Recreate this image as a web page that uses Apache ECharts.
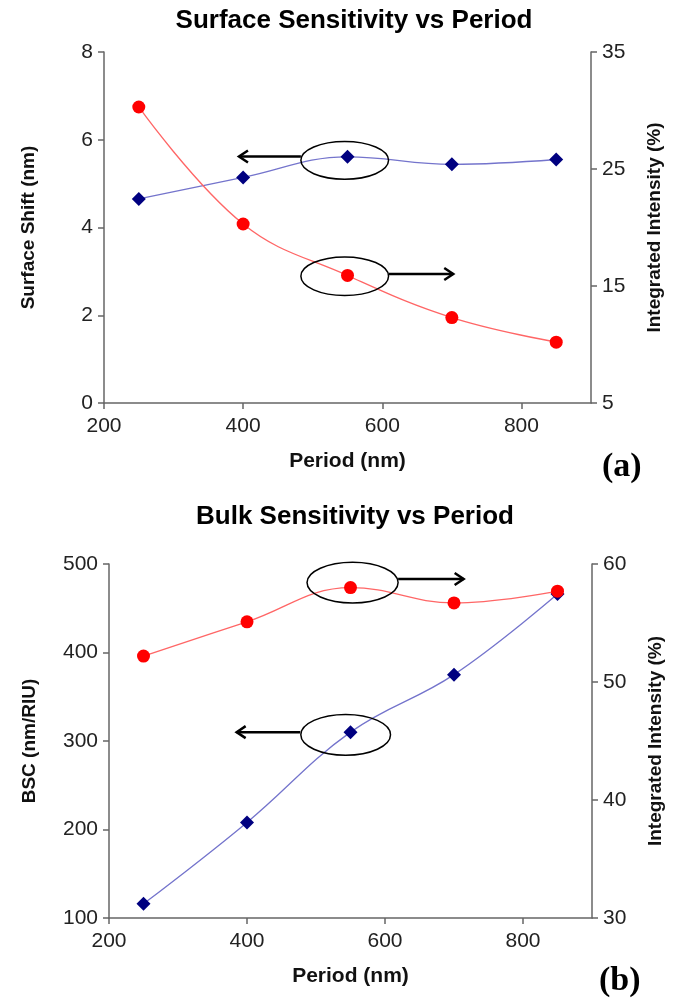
<!DOCTYPE html>
<html>
<head>
<meta charset="utf-8">
<script src="https://cdn.jsdelivr.net/npm/echarts@6/dist/echarts.min.js"></script>
<style>
    html, body { margin: 0; padding: 0; background: #fff; }
    #chart { width: 685px; height: 1002px; }
</style>
</head>
<body>
<div id="chart"></div>
<script>
// 数据
const periods = [250, 400, 550, 700, 850]
const surfaceShift = [4.65, 5.14, 5.61, 5.44, 5.55]
const surfaceIntensity = [30.3, 20.3, 15.9, 12.3, 10.2]
const bulkBSC = [116, 208, 310, 375, 466]
const bulkIntensity = [52.2, 55.1, 58.0, 56.7, 57.7]

// 标注: [椭圆中心x, 中心y, 半径x, 半径y, 箭头起点x, 箭头终点x, 箭头y] (左轴坐标)
const surfaceCallouts = [
    [546, 5.53, 63, 0.43, 483, 394, 5.62],
    [546, 2.89, 63, 0.44, 609, 702, 2.94]
]
const bulkCallouts = [
    [553, 479, 66, 23, 619, 714, 483],
    [543, 307, 65, 23, 477, 385, 310]
]

const tickFont = '"Liberation Sans Narrow", "Liberation Sans", Arial, sans-serif'
const boldFont = '"Liberation Sans", Arial, sans-serif'

const pairs = (xs, ys) => xs.map((x, i) => [x, ys[i]])

const renderCallout = (params, api) => {
    const c = api.coord([api.value(0), api.value(1)])
    const s = api.size([api.value(2), api.value(3)])
    const a0 = api.coord([api.value(4), api.value(6)])
    const a1 = api.coord([api.value(5), api.value(6)])
    const dir = Math.sign(a1[0] - a0[0])
    return {
        type: 'group',
        children: [
            {
                type: 'ellipse',
                shape: { cx: c[0], cy: c[1], rx: s[0], ry: s[1] },
                style: { fill: 'none', stroke: '#000', lineWidth: 1.5 }
            },
            {
                type: 'line',
                shape: { x1: a0[0], y1: a0[1], x2: a1[0], y2: a1[1] },
                style: { stroke: '#000', lineWidth: 2.5 }
            },
            {
                type: 'polyline',
                shape: { points: [[a1[0] - dir * 9, a1[1] - 6], [a1[0], a1[1]], [a1[0] - dir * 9, a1[1] + 6]] },
                style: { stroke: '#000', lineWidth: 2.5, fill: 'none' }
            }
        ]
    }
}

const xAxisBase = (gridIndex) => ({
    gridIndex,
    type: 'value',
    min: 200,
    max: 900,
    interval: 200,
    name: 'Period (nm)',
    nameLocation: 'middle',
    nameGap: 48,
    nameTextStyle: { fontFamily: boldFont, fontWeight: 'bold', fontSize: 21, color: '#111' },
    axisLine: { lineStyle: { color: '#666', width: 1.5 } },
    axisTick: { length: 6, lineStyle: { color: '#666', width: 1.5 } },
    axisLabel: { fontFamily: tickFont, fontSize: 21, color: '#222', margin: 13, showMaxLabel: false },
    splitLine: { show: false }
})

const yAxisBase = (gridIndex, position, min, max, interval, name, nameGap) => ({
    gridIndex,
    type: 'value',
    position,
    min,
    max,
    interval,
    name,
    nameLocation: 'middle',
    nameRotate: 90,
    nameGap,
    nameTextStyle: { fontFamily: boldFont, fontWeight: 'bold', fontSize: 19, color: '#111' },
    axisLine: { show: true, lineStyle: { color: '#666', width: 1.5 } },
    axisTick: { show: true, length: 6, lineStyle: { color: '#666', width: 1.5 } },
    axisLabel: { fontFamily: tickFont, fontSize: 21, color: '#222', margin: 11 },
    splitLine: { show: false }
})

const blueLine = (name, data, xi, yi) => ({
    name,
    type: 'line',
    xAxisIndex: xi,
    yAxisIndex: yi,
    data,
    smooth: 0.4,
    symbol: 'diamond',
    symbolSize: 14,
    lineStyle: { color: '#7474cc', width: 1.3 },
    itemStyle: { color: '#000080' },
    z: 3
})

const redLine = (name, data, xi, yi) => ({
    name,
    type: 'line',
    xAxisIndex: xi,
    yAxisIndex: yi,
    data,
    smooth: 0.4,
    symbol: 'circle',
    symbolSize: 13,
    lineStyle: { color: '#ff6666', width: 1.3 },
    itemStyle: { color: '#ff0000' },
    z: 4
})

const chart = echarts.init(document.getElementById('chart'))

const option = {
    backgroundColor: '#fff',
    animation: false,
    title: [
        {
            text: 'Surface Sensitivity vs Period',
            left: 349,
            top: 3,
            textAlign: 'center',
            textStyle: { fontFamily: boldFont, fontWeight: 'bold', fontSize: 26, color: '#000' }
        },
        {
            text: 'Bulk Sensitivity vs Period',
            left: 350,
            top: 499,
            textAlign: 'center',
            textStyle: { fontFamily: boldFont, fontWeight: 'bold', fontSize: 26, color: '#000' }
        }
    ],
    grid: [
        { left: 104, top: 52, width: 487, height: 351 },
        { left: 109, top: 564, width: 483, height: 354 }
    ],
    xAxis: [xAxisBase(0), xAxisBase(1)],
    yAxis: [
        yAxisBase(0, 'left', 0, 8, 2, 'Surface Shift (nm)', 66),
        yAxisBase(0, 'right', 5, 35, 10, 'Integrated Intensity (%)', 54),
        yAxisBase(1, 'left', 100, 500, 100, 'BSC (nm/RIU)', 70),
        yAxisBase(1, 'right', 30, 60, 10, 'Integrated Intensity (%)', 54)
    ],
    series: [
        blueLine('Surface Shift', pairs(periods, surfaceShift), 0, 0),
        redLine('Integrated Intensity', pairs(periods, surfaceIntensity), 0, 1),
        blueLine('BSC', pairs(periods, bulkBSC), 1, 2),
        redLine('Integrated Intensity', pairs(periods, bulkIntensity), 1, 3),
        {
            type: 'custom',
            xAxisIndex: 0,
            yAxisIndex: 0,
            data: surfaceCallouts,
            renderItem: renderCallout,
            clip: false,
            silent: true,
            z: 5
        },
        {
            type: 'custom',
            xAxisIndex: 1,
            yAxisIndex: 2,
            data: bulkCallouts,
            renderItem: renderCallout,
            clip: false,
            silent: true,
            z: 5
        }
    ],
    graphic: [
        {
            type: 'text',
            left: 602,
            top: 450,
            style: { text: '(a)', font: 'bold 34px "Liberation Serif", "Times New Roman", serif', fill: '#000' }
        },
        {
            type: 'text',
            left: 599,
            top: 964,
            style: { text: '(b)', font: 'bold 34px "Liberation Serif", "Times New Roman", serif', fill: '#000' }
        }
    ]
}

chart.setOption(option)
</script>
</body>
</html>
